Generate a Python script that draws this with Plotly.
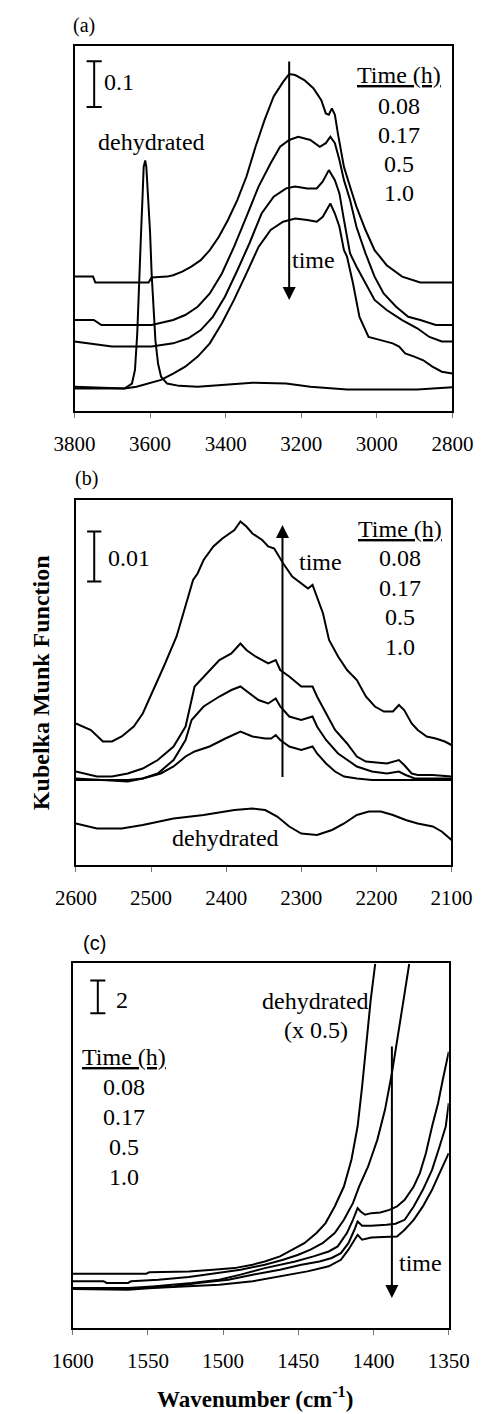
import plotly.graph_objects as go

# ---------------- Panel (a): O-H / N-H region ----------------
a_wn_008 = [3800, 3751, 3745, 3604, 3596, 3555, 3539, 3515, 3491, 3466, 3442, 3418, 3394, 3369, 3345, 3321, 3297, 3273, 3248, 3232,
            3216, 3192, 3168, 3147, 3135, 3127, 3119, 3111, 3103, 3087, 3071, 3054, 3030, 3006, 2974, 2933, 2885, 2800]
a_km_008 = [0.292, 0.292, 0.279, 0.279, 0.290, 0.292, 0.295, 0.303, 0.314, 0.328, 0.350, 0.379, 0.416, 0.460, 0.511, 0.576, 0.635, 0.686, 0.718, 0.735,
            0.733, 0.722, 0.704, 0.678, 0.649, 0.646, 0.660, 0.646, 0.605, 0.532, 0.489, 0.445, 0.394, 0.350, 0.317, 0.292, 0.279, 0.279]

a_wn_017 = [3800, 3749, 3729, 3596, 3539, 3507, 3474, 3442, 3410, 3378, 3345, 3313, 3281, 3256, 3232, 3208, 3176, 3151, 3135, 3123,
            3111, 3099, 3087, 3071, 3054, 3030, 3006, 2982, 2949, 2917, 2885, 2844, 2800]
a_km_017 = [0.197, 0.197, 0.186, 0.186, 0.197, 0.208, 0.226, 0.255, 0.299, 0.357, 0.423, 0.489, 0.540, 0.576, 0.591, 0.598, 0.591, 0.576, 0.584, 0.598,
            0.584, 0.547, 0.503, 0.460, 0.401, 0.343, 0.292, 0.255, 0.226, 0.204, 0.197, 0.186, 0.186]

a_wn_05 = [3800, 3701, 3596, 3539, 3499, 3466, 3434, 3402, 3369, 3337, 3305, 3273, 3240, 3216, 3184, 3159, 3143, 3127, 3111, 3099,
           3087, 3071, 3054, 3030, 3006, 2974, 2933, 2893, 2861, 2828, 2800]
a_km_05 = [0.150, 0.139, 0.139, 0.146, 0.157, 0.175, 0.204, 0.248, 0.306, 0.365, 0.430, 0.467, 0.485, 0.489, 0.485, 0.485, 0.500, 0.525, 0.503, 0.474,
           0.416, 0.343, 0.314, 0.277, 0.241, 0.219, 0.197, 0.179, 0.160, 0.150, 0.150]

a_wn_10 = [3800, 3668, 3636, 3604, 3571, 3539, 3507, 3474, 3442, 3410, 3378, 3345, 3313, 3281, 3248, 3216, 3184, 3159, 3143, 3123,
           3111, 3099, 3087, 3079, 3063, 3046, 3022, 2990, 2958, 2941, 2925, 2901, 2877, 2853, 2828, 2800]
a_km_10 = [0.047, 0.047, 0.051, 0.058, 0.066, 0.080, 0.095, 0.117, 0.146, 0.190, 0.241, 0.299, 0.357, 0.394, 0.412, 0.419, 0.416, 0.412, 0.423, 0.452,
           0.430, 0.401, 0.350, 0.336, 0.277, 0.204, 0.160, 0.153, 0.146, 0.139, 0.124, 0.117, 0.109, 0.095, 0.084, 0.080]

a_wn_dehyd = [3800, 3668, 3648, 3640, 3634, 3630, 3624, 3620, 3617, 3613, 3610, 3605, 3600, 3596, 3591, 3586, 3579, 3571, 3555, 3523,
              3474, 3418, 3329, 3240, 3176, 3079, 2893, 2800]
a_km_dehyd = [0.051, 0.047, 0.058, 0.088, 0.168, 0.277, 0.387, 0.467, 0.532, 0.546, 0.532, 0.460, 0.387, 0.299, 0.226, 0.153, 0.102, 0.073, 0.058, 0.053,
              0.051, 0.055, 0.060, 0.058, 0.051, 0.045, 0.045, 0.050]

# ---------------- Panel (b): 2600-2100 region ----------------
b_wn_10 = [2600, 2580, 2564, 2552, 2539, 2523, 2511, 2499, 2483, 2466, 2454, 2444, 2438, 2430, 2417, 2405, 2389, 2381, 2373, 2365,
           2352, 2344, 2336, 2332, 2324, 2312, 2300, 2291, 2285, 2279, 2271, 2263, 2251, 2239, 2226, 2214, 2202, 2190, 2178, 2170,
           2163, 2153, 2145, 2133, 2121, 2109, 2100]
b_km_10 = [0.0283, 0.0270, 0.0247, 0.0247, 0.0257, 0.0277, 0.0303, 0.0343, 0.0397, 0.0457, 0.0517, 0.0570, 0.0583, 0.0610, 0.0637, 0.0653, 0.0670, 0.0687, 0.0677, 0.0663,
           0.0650, 0.0637, 0.0633, 0.0623, 0.0603, 0.0577, 0.0563, 0.0553, 0.0560, 0.0537, 0.0503, 0.0450, 0.0417, 0.0390, 0.0370, 0.0337, 0.0317, 0.0307, 0.0307, 0.0320,
           0.0310, 0.0283, 0.0270, 0.0257, 0.0253, 0.0247, 0.0240]

b_wn_05 = [2600, 2588, 2572, 2552, 2531, 2511, 2491, 2470, 2454, 2442, 2426, 2409, 2393, 2381, 2373, 2361, 2344, 2334, 2328, 2316,
           2300, 2285, 2279, 2267, 2255, 2239, 2226, 2214, 2186, 2170, 2163, 2153, 2145, 2125, 2100]
b_km_05 = [0.0187, 0.0183, 0.0177, 0.0177, 0.0183, 0.0193, 0.0210, 0.0237, 0.0277, 0.0357, 0.0383, 0.0410, 0.0423, 0.0443, 0.0430, 0.0417, 0.0403, 0.0410, 0.0390, 0.0377,
           0.0357, 0.0357, 0.0337, 0.0303, 0.0270, 0.0243, 0.0217, 0.0207, 0.0203, 0.0210, 0.0200, 0.0183, 0.0180, 0.0180, 0.0177]

b_wn_017 = [2600, 2572, 2531, 2511, 2491, 2470, 2454, 2446, 2430, 2409, 2393, 2381, 2369, 2357, 2344, 2334, 2328, 2316, 2300, 2285,
            2279, 2267, 2251, 2239, 2226, 2206, 2186, 2170, 2161, 2149, 2100]
b_km_017 = [0.0173, 0.0170, 0.0167, 0.0173, 0.0183, 0.0210, 0.0250, 0.0290, 0.0317, 0.0337, 0.0350, 0.0357, 0.0343, 0.0330, 0.0323, 0.0333, 0.0317, 0.0297, 0.0290, 0.0297,
            0.0277, 0.0250, 0.0223, 0.0210, 0.0197, 0.0187, 0.0183, 0.0187, 0.0180, 0.0173, 0.0173]

b_wn_008 = [2600, 2531, 2511, 2487, 2470, 2454, 2442, 2422, 2401, 2381, 2365, 2348, 2340, 2334, 2328, 2316, 2300, 2285, 2279, 2267,
            2255, 2243, 2226, 2206, 2100]
b_km_008 = [0.0170, 0.0170, 0.0173, 0.0183, 0.0197, 0.0217, 0.0227, 0.0237, 0.0253, 0.0267, 0.0257, 0.0253, 0.0253, 0.0260, 0.0250, 0.0237, 0.0230, 0.0237, 0.0223, 0.0203,
            0.0187, 0.0177, 0.0173, 0.0170, 0.0170]

b_wn_dehyd = [2600, 2572, 2539, 2511, 2470, 2430, 2389, 2365, 2348, 2332, 2316, 2300, 2279, 2259, 2243, 2226, 2210, 2194, 2178, 2161,
              2145, 2125, 2113, 2100]
b_km_dehyd = [0.0083, 0.0073, 0.0073, 0.0080, 0.0093, 0.0100, 0.0110, 0.0113, 0.0110, 0.0097, 0.0077, 0.0063, 0.0060, 0.0070, 0.0083, 0.0100, 0.0107, 0.0107, 0.0100, 0.0090,
              0.0083, 0.0077, 0.0067, 0.0050]

# ---------------- Panel (c): 1600-1350 region ----------------
c_wn_dehyd = [1600, 1551.1, 1549.1, 1522.8, 1506.6, 1492.5, 1480.4, 1472.3, 1462.2, 1454.1, 1446.0, 1437.9, 1431.9, 1425.8, 1419.7, 1414.7,
              1410.6, 1407.6, 1404.6, 1401.9, 1398.9]
c_km_dehyd = [3.33, 3.33, 3.41, 3.47, 3.57, 3.67, 3.88, 4.08, 4.39, 4.80, 5.20, 5.82, 6.43, 7.45, 8.67, 10.31,
              12.35, 14.80, 17.65, 20.10, 22.31]

c_wn_008 = [1600, 1579.4, 1577.4, 1563.2, 1561.2, 1543.0, 1522.8, 1502.6, 1488.4, 1472.3, 1460.1, 1450.0, 1441.9, 1433.9, 1425.8, 1419.7,
            1413.7, 1409.6, 1403.6, 1397.5, 1392.4, 1387.8, 1383.4, 1379.7, 1376.3]
c_km_008 = [2.86, 2.86, 2.76, 2.76, 2.86, 2.96, 3.12, 3.37, 3.57, 3.88, 4.18, 4.49, 4.80, 5.20, 5.82, 6.63,
            7.65, 8.67, 9.90, 11.53, 13.37, 15.61, 18.06, 20.31, 22.31]

c_wn_017 = [1600, 1563.2, 1547.0, 1520.8, 1502.6, 1488.4, 1472.3, 1452.1, 1439.9, 1429.8, 1423.8, 1417.7, 1413.7, 1410.6, 1408.6, 1405.6,
            1401.5, 1395.5, 1389.4, 1384.4, 1379.3, 1373.3, 1369.2, 1365.2, 1361.1, 1357.1, 1354.0, 1350]
c_km_017 = [2.45, 2.45, 2.55, 2.76, 2.96, 3.27, 3.67, 4.08, 4.39, 4.69, 5.00, 5.82, 6.63, 7.35, 7.14, 6.94,
            7.04, 7.08, 7.24, 7.45, 7.86, 8.67, 9.49, 10.71, 12.35, 13.78, 15.20, 16.94]

c_wn_05 = [1600, 1553.1, 1532.9, 1516.7, 1496.5, 1480.4, 1462.2, 1448.0, 1435.9, 1427.8, 1421.7, 1416.7, 1412.7, 1410.6, 1407.6, 1401.5,
           1391.4, 1385.4, 1379.3, 1373.3, 1367.2, 1361.1, 1356.1, 1352.0, 1350]
c_km_05 = [2.45, 2.45, 2.55, 2.76, 2.96, 3.27, 3.57, 3.88, 4.08, 4.29, 4.59, 5.20, 6.02, 6.53, 6.27, 6.27,
           6.33, 6.39, 6.63, 7.45, 8.47, 9.69, 11.12, 12.35, 13.78]

c_wn_10 = [1600, 1563.2, 1547.0, 1520.8, 1502.6, 1480.4, 1462.2, 1444.0, 1429.8, 1421.7, 1416.7, 1412.7, 1410.6, 1407.6, 1401.5, 1393.5,
           1384.4, 1379.3, 1373.3, 1367.2, 1361.1, 1356.1, 1350]
c_km_10 = [2.39, 2.35, 2.45, 2.55, 2.65, 2.86, 3.16, 3.47, 3.78, 4.18, 4.80, 5.41, 5.71, 5.41, 5.55, 5.57,
           5.61, 6.02, 6.63, 7.45, 8.47, 9.49, 10.71]

# ---------------- labels / ticks ----------------
time_labels = ["0.08", "0.17", "0.5", "1.0"]
a_ticks = [3800, 3600, 3400, 3200, 3000, 2800]
b_ticks = [2600, 2500, 2400, 2300, 2200, 2100]
c_ticks = [1600, 1550, 1500, 1450, 1400, 1350]
scale_a, scale_b, scale_c = 0.1, 0.01, 2

SERIF = "Liberation Serif, Times New Roman, serif"
W, H = 494, 1414

fig = go.Figure()
line = dict(color="black", width=2)

def add(wn, km, xa, ya):
    fig.add_trace(go.Scatter(x=wn, y=km, mode="lines", line=line, xaxis=xa, yaxis=ya,
                             showlegend=False, hoverinfo="skip"))

for wn, km in [(a_wn_008, a_km_008), (a_wn_017, a_km_017), (a_wn_05, a_km_05), (a_wn_10, a_km_10), (a_wn_dehyd, a_km_dehyd)]:
    add(wn, km, "x", "y")
for wn, km in [(b_wn_10, b_km_10), (b_wn_05, b_km_05), (b_wn_017, b_km_017), (b_wn_008, b_km_008), (b_wn_dehyd, b_km_dehyd)]:
    add(wn, km, "x2", "y2")
for wn, km in [(c_wn_dehyd, c_km_dehyd), (c_wn_008, c_km_008), (c_wn_017, c_km_017), (c_wn_05, c_km_05), (c_wn_10, c_km_10)]:
    add(wn, km, "x3", "y3")

def px_dom(a, b, n):
    return [a / n, b / n]

def py_dom(top, bottom):
    return [1 - bottom / H, 1 - top / H]

xcommon = dict(showline=True, mirror=True, linewidth=2, linecolor="black", showgrid=False, zeroline=False,
               ticks="outside", ticklen=5, tickwidth=1, tickcolor="#777",
               tickfont=dict(family=SERIF, size=21, color="black"), ticklabelstandoff=8, tickmode="array")
ycommon = dict(showline=True, mirror=True, linewidth=2, linecolor="black", showgrid=False, zeroline=False,
               showticklabels=False, ticks="")

fig.update_layout(
    width=W, height=H, margin=dict(l=0, r=0, t=0, b=0),
    paper_bgcolor="white", plot_bgcolor="white", showlegend=False,
    xaxis=dict(xcommon, domain=px_dom(58.5, 471.5, W), range=[3800, 2800], tickvals=a_ticks, anchor="y"),
    yaxis=dict(ycommon, domain=py_dom(46, 411), range=[-0.002, 0.7965], anchor="x"),
    xaxis2=dict(xcommon, domain=px_dom(60, 470.5, W), range=[2600, 2100], tickvals=b_ticks, anchor="y2"),
    yaxis2=dict(ycommon, domain=py_dom(500, 865), range=[0, 0.073], anchor="x2"),
    xaxis3=dict(xcommon, domain=px_dom(56.5, 467.5, W), range=[1600, 1350], tickvals=c_ticks, anchor="y3"),
    yaxis3=dict(ycommon, domain=py_dom(963, 1328), range=[0, 22.37], anchor="x3"),
)

# scale bars (data coordinates)
def scale_bar(xr, yr, xc, half, y0, length):
    y1 = y0 + length
    for (xa0, ya0, xa1, ya1) in [(xc, y0, xc, y1), (xc - half, y0, xc + half, y0), (xc - half, y1, xc + half, y1)]:
        fig.add_shape(type="line", xref=xr, yref=yr, x0=xa0, y0=ya0, x1=xa1, y1=ya1,
                      line=dict(color="black", width=2))

scale_bar("x", "y", 3748, 20, 0.663, scale_a)
scale_bar("x2", "y2", 2575.6, 9.5, 0.0567, scale_b)
scale_bar("x3", "y3", 1583.3, 5, 19.29, scale_c)

# arrows (data coordinates)
def arrow(xr, yr, x, y_tail, y_tip):
    fig.add_annotation(xref=xr, yref=yr, axref=xr, ayref=yr, x=x, y=y_tip, ax=x, ay=y_tail,
                       text="", showarrow=True, arrowhead=2, arrowsize=1.3, arrowwidth=2, arrowcolor="black")

arrow("x", "y", 3232, 0.766, 0.241)
arrow("x2", "y2", 2325, 0.0173, 0.068)
arrow("x3", "y3", 1387.8, 17.35, 1.84)

# text annotations (pixel positions converted to paper)
def txt(s, px, py, size=24, xanchor="center", family=SERIF):
    fig.add_annotation(xref="paper", yref="paper", x=px / W, y=1 - py / H, text=s, showarrow=False,
                       xanchor=xanchor, yanchor="middle", font=dict(family=family, size=size, color="black"))

# panel (a)
txt("(a)", 69, 25, size=20)
txt("0.1", 88, 82, xanchor="left")
txt("dehydrated", 143, 142)
txt("<u>Time (h)</u>", 413, 75)
for lab, py in zip(time_labels, [106, 135, 164, 193]):
    txt(lab, 413, py)
txt("time", 320, 260)

# panel (b)
txt("(b)", 72, 478, size=20)
txt("0.01", 93, 558, xanchor="left")
txt("time", 327, 562)
txt("<u>Time (h)</u>", 414, 529)
for lab, py in zip(time_labels, [558, 588, 617, 647]):
    txt(lab, 414, py)
txt("dehydrated", 224, 838)

# panel (c)
txt("(c)", 80, 943, size=20, family="Liberation Sans, Arial, sans-serif")
txt("2", 102, 1000, xanchor="left")
txt("dehydrated", 322, 1001)
txt("(x 0.5)", 322, 1030)
txt("<u>Time (h)</u>", 113, 1057)
for lab, py in zip(time_labels, [1087, 1117, 1147, 1177]):
    txt(lab, 113, py)
txt("time", 437, 1263)

# axis titles
fig.add_annotation(xref="paper", yref="paper", x=22 / W, y=1 - 683 / H, text="<b>Kubelka Munk Function</b>",
                   textangle=-90, showarrow=False, xanchor="center", yanchor="middle",
                   font=dict(family=SERIF, size=24, color="black"))
fig.add_annotation(xref="paper", yref="paper", x=256 / W, y=1 - 1397 / H, text="<b>Wavenumber (cm<sup>-1</sup>)</b>",
                   showarrow=False, xanchor="center", yanchor="middle",
                   font=dict(family=SERIF, size=23, color="black"))

fig.write_html("out.html")
